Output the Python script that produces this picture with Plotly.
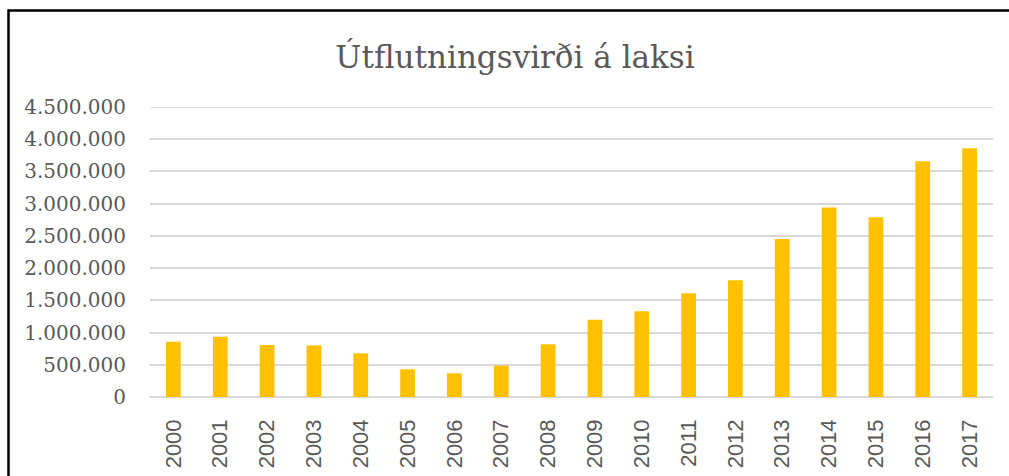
import plotly.graph_objects as go

years = [str(y) for y in range(2000, 2018)]
values = [858000, 936000, 807000, 800000, 678000, 430000, 368000, 487000, 818000,
          1200000, 1330000, 1610000, 1810000, 2450000, 2940000, 2790000, 3660000, 3860000]
title_text = "Útflutningsvirði á laksi"

W, H = 1009, 476
L, R, T, B = 150, 16, 107, 79
pw = W - L - R
ph = H - T - B

def px(x):
    return (x - L) / pw

def py(y):
    return (H - B - y) / ph

fig = go.Figure(go.Bar(
    x=years, y=values, marker=dict(color="#FFC000", line=dict(width=0)),
    width=0.315, cliponaxis=False,
))

fig.update_layout(
    width=W, height=H,
    margin=dict(l=L, r=R, t=T, b=B, autoexpand=False),
    plot_bgcolor="white", paper_bgcolor="white",
    separators=",.",
    showlegend=False,
    title=dict(text=title_text, x=px(515), xanchor="center", xref="paper",
               y=(H - 68) / H, yanchor="bottom", yref="container",
               font=dict(family="DejaVu Serif", size=31, color="#595959")),
    shapes=[dict(type="rect", xref="paper", yref="paper",
                 x0=px(8.5), x1=px(1030), y0=py(500), y1=py(10.5),
                 line=dict(color="black", width=2.5), layer="above")],
)
fig.update_xaxes(type="category", showgrid=False, showline=False, ticks="",
                 tickangle=-90, ticklabelstandoff=17, automargin=False,
                 tickfont=dict(family="Liberation Sans", size=22, color="#595959"))
fig.update_yaxes(range=[0, 4500000], dtick=500000, tickformat=",d",
                 showgrid=True, gridcolor="#d9d9d9", gridwidth=1.5,
                 zeroline=True, zerolinecolor="#d9d9d9", zerolinewidth=1.5,
                 showline=False, ticks="", ticklabelstandoff=23, automargin=False,
                 tickfont=dict(family="DejaVu Serif", size=20, color="#595959"))
# top gridline at the range edge
fig.add_shape(type="line", xref="paper", yref="y", x0=0, x1=1, y0=4500000, y1=4500000,
              line=dict(color="#d9d9d9", width=1.5), layer="below")

fig.write_html("out.html", config={"displayModeBar": False},
               post_script="document.body.style.margin='0px';document.body.style.overflow='hidden';")
